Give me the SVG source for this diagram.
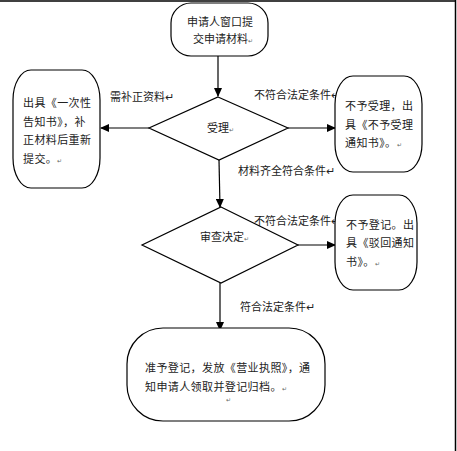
<svg xmlns="http://www.w3.org/2000/svg" width="457" height="451" viewBox="0 0 457 451">
<style>
.box{fill:#fff;stroke:#000;stroke-width:1.2}
.dia{fill:#fff;stroke:#000;stroke-width:1.2}
.t{font-family:"Noto Sans CJK SC","Liberation Sans",sans-serif;font-size:11px;fill:#222}
.bt{letter-spacing:0.4px}
.m{font-family:"Liberation Sans",sans-serif;font-size:6px;fill:#666}
.ln{stroke:#000;stroke-width:1.2;fill:none}
</style>
<defs>
<marker id="ah" markerWidth="9" markerHeight="8" refX="8" refY="4" orient="auto" markerUnits="userSpaceOnUse">
<path d="M0,0 L9,4 L0,8 Z" fill="#000"/>
</marker>
</defs>
<rect width="457" height="451" fill="#fff"/>
<g id="frame">
<line x1="0" y1="1" x2="456" y2="1" stroke="#000" stroke-width="1.5"/>
<line x1="455.5" y1="0" x2="455.5" y2="451" stroke="#000" stroke-width="1.5"/>
</g>
<g id="connectors">
<line class="ln" x1="218" y1="56" x2="218" y2="96" marker-end="url(#ah)"/>
<line class="ln" x1="149" y1="128" x2="101" y2="128" marker-end="url(#ah)"/>
<line class="ln" x1="288" y1="128" x2="335" y2="128" marker-end="url(#ah)"/>
<line class="ln" x1="219" y1="160" x2="220" y2="207" marker-end="url(#ah)"/>
<line class="ln" x1="298" y1="245" x2="335" y2="245" marker-end="url(#ah)"/>
<line class="ln" x1="220" y1="283" x2="220" y2="330" marker-end="url(#ah)"/>
<text class="t" x="110" y="101">需补正资料↵</text>
<text class="t" x="254" y="99">不符合法定条件↵</text>
<text class="t" x="238" y="175">材料齐全符合条件↵</text>
<text class="t" x="254" y="225">不符合法定条件↵</text>
<text class="t" x="240" y="311">符合法定条件↵</text>
</g>
<g id="n-apply">
<rect class="box" x="171" y="3" width="97" height="53" rx="20" ry="20"/>
<text class="t" x="187" y="26">申请人窗口提</text>
<text class="t" x="193" y="43">交申请材料<tspan class="m">↵</tspan></text>
</g>
<g id="n-accept">
<polygon class="dia" points="218,97 288,128 219,160 149,128"/>
<text class="t" x="207" y="132">受理<tspan class="m">↵</tspan></text>
</g>
<g id="n-supplement">
<rect class="box" x="13" y="70" width="87" height="118" rx="18" ry="30"/>
<text class="t bt" x="23" y="107">出具《一次性</text>
<text class="t bt" x="23" y="126">告知书》，补</text>
<text class="t bt" x="23" y="144">正材料后重新</text>
<text class="t bt" x="23" y="163">提交。<tspan class="m">↵</tspan></text>
</g>
<g id="n-reject1">
<rect class="box" x="335" y="76" width="87" height="96" rx="18" ry="28"/>
<text class="t bt" x="345" y="110">不予受理，出</text>
<text class="t bt" x="345" y="129">具《不予受理</text>
<text class="t bt" x="345" y="147">通知书》。<tspan class="m">↵</tspan></text>
</g>
<g id="n-review">
<polygon class="dia" points="221,207 298,245 221,283 142,245"/>
<text class="t" x="200" y="241">审查决定<tspan class="m">↵</tspan></text>
</g>
<g id="n-reject2">
<rect class="box" x="335" y="195" width="82" height="95" rx="18" ry="28"/>
<text class="t bt" x="346" y="229">不予登记。出</text>
<text class="t bt" x="346" y="247">具《驳回通知</text>
<text class="t bt" x="346" y="266">书》。<tspan class="m">↵</tspan></text>
</g>
<g id="n-approve">
<rect class="box" x="127" y="328" width="198" height="93" rx="36" ry="36"/>
<text class="t bt" x="145" y="372">准予登记，发放《营业执照》，通</text>
<text class="t bt" x="145" y="391">知申请人领取并登记归档。<tspan class="m">↵</tspan></text>
<text class="m" x="226" y="402">↵</text>
</g>
</svg>
